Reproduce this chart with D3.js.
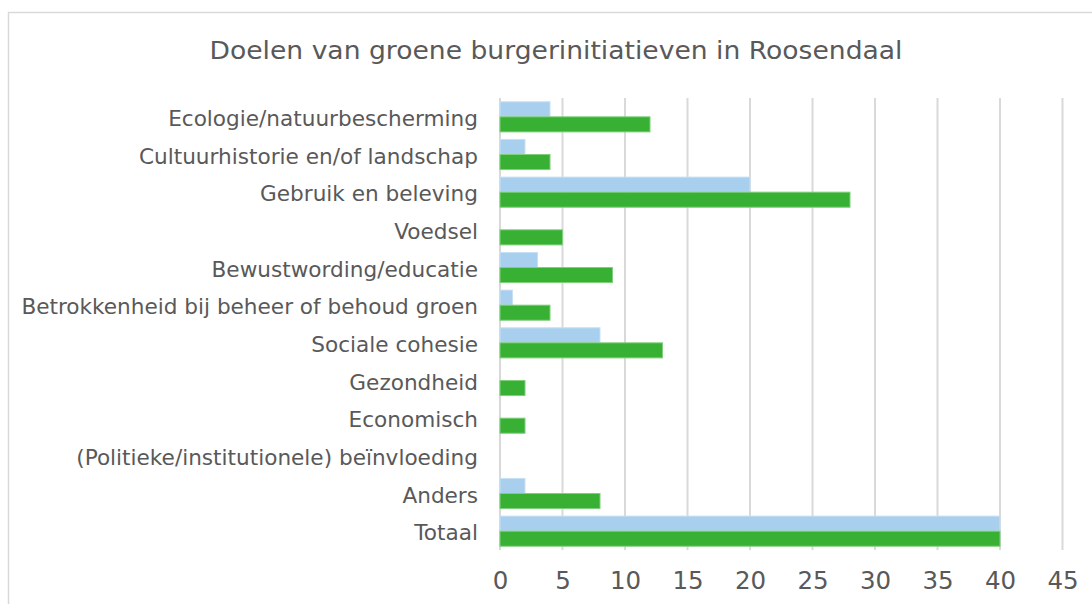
<!DOCTYPE html>
<html><head><meta charset="utf-8">
<script src="https://cdn.jsdelivr.net/npm/d3@7"></script>
<style>body{margin:0;background:#fff}svg{display:block}</style>
</head><body>
<svg id="c" width="1092" height="604"></svg>
<script>
const categories = ["Ecologie/natuurbescherming","Cultuurhistorie en/of landschap","Gebruik en beleving","Voedsel","Bewustwording/educatie","Betrokkenheid bij beheer of behoud groen","Sociale cohesie","Gezondheid","Economisch","(Politieke/institutionele) beïnvloeding","Anders","Totaal"];
const seriesBlue = [4,2,20,0,3,1,8,0,0,0,2,40];
const seriesGreen = [12,4,28,5,9,4,13,2,2,0,8,40];
const ticks = [0,5,10,15,20,25,30,35,40,45];
const title = "Doelen van groene burgerinitiatieven in Roosendaal";

const svg = d3.select("#c");
const font = "DejaVu Sans, Verdana, sans-serif";
svg.append("rect").attr("x",8.5).attr("y",12.5).attr("width",1200).attr("height",700)
  .attr("fill","#fff").attr("stroke","#d9d9d9").attr("stroke-width",1.5);

const x = d3.scaleLinear().domain([0,45]).range([500,1062.5]);
const y = d3.scaleBand().domain(categories).range([98,550]).paddingInner(0.2).paddingOuter(0.1);
const sub = d3.scaleBand().domain(["b","g"]).range([0,y.bandwidth()]);

svg.append("text").attr("x",556).attr("y",59).attr("text-anchor","middle")
  .attr("font-family",font).attr("font-size",24).attr("fill","#595959")
  .attr("textLength",693).attr("lengthAdjust","spacingAndGlyphs").text(title);

const g = svg.append("g");
g.selectAll("line.grid").data(ticks).join("line").attr("class","grid")
  .attr("x1",d=>x(d)).attr("x2",d=>x(d)).attr("y1",98).attr("y2",550)
  .attr("stroke","#d9d9d9").attr("stroke-width",2);

const axis = d3.axisBottom(x).tickValues(ticks).tickSize(0).tickPadding(0);
const ax = svg.append("g").attr("transform","translate(0,589)").call(axis);
ax.select(".domain").remove();
ax.selectAll("text").attr("font-family",font).attr("font-size",24.5).attr("fill","#595959").attr("dy",0);

const yAxis = d3.axisLeft(y).tickSize(0).tickPadding(0);
const ay = svg.append("g").attr("transform","translate(478,0)").call(yAxis);
ay.select(".domain").remove();
ay.selectAll("text").attr("font-family",font).attr("font-size",21.6).attr("fill","#595959").attr("dy","0.42em");

g.selectAll("rect.b").data(categories).join("rect").attr("class","b")
  .attr("x",x(0)).attr("y",(d)=>y(d)+sub("b"))
  .attr("width",(d,i)=>x(seriesBlue[i])-x(0)).attr("height",sub.bandwidth())
  .attr("fill","#a9cfee").attr("stroke","#c7e0f4").attr("stroke-width",1)
  .attr("stroke-opacity",(d,i)=>seriesBlue[i]>0?1:0);
g.selectAll("rect.g").data(categories).join("rect").attr("class","g")
  .attr("x",x(0)).attr("y",(d)=>y(d)+sub("g"))
  .attr("width",(d,i)=>x(seriesGreen[i])-x(0)).attr("height",sub.bandwidth())
  .attr("fill","#37b034").attr("stroke","#7fcf7c").attr("stroke-width",1)
  .attr("stroke-opacity",(d,i)=>seriesGreen[i]>0?1:0);
</script>
</body></html>
